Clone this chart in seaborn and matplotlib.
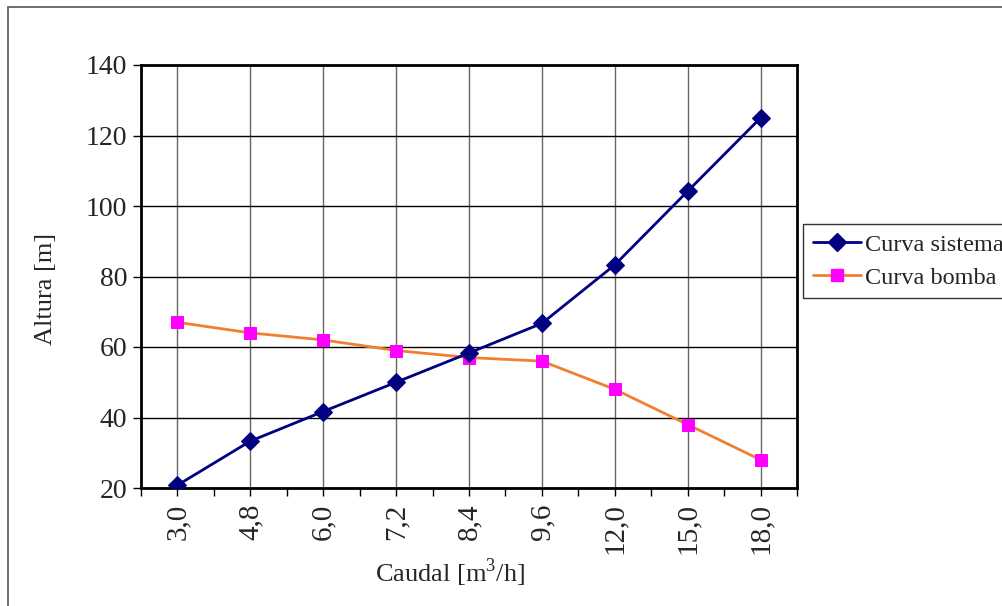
import matplotlib
matplotlib.use("Agg")
import matplotlib.pyplot as plt
import seaborn as sns
import pandas as pd
from matplotlib.lines import Line2D
from matplotlib.patches import Rectangle

caudal = ["3,0", "4,8", "6,0", "7,2", "8,4", "9,6", "12,0", "15,0", "18,0"]
curva_sistema = [20.8, 33.3, 41.7, 50.0, 58.3, 66.7, 83.3, 104.2, 125.0]
curva_bomba = [67, 64, 62, 59, 57, 56, 48, 38, 28]

sns.set_theme(style="white")
plt.rcParams["font.family"] = ["Liberation Serif", "DejaVu Serif"]
plt.rcParams["mathtext.fontset"] = "custom"
plt.rcParams["mathtext.rm"] = "Liberation Serif"

df = pd.DataFrame({"Caudal": caudal, "Curva sistema": curva_sistema, "Curva bomba": curva_bomba})
df["x"] = range(len(caudal))

fig = plt.figure(figsize=(10.03, 6.06), dpi=100)
ax = fig.add_axes([141 / 1003, 1 - 488 / 606, 656 / 1003, 423 / 606])

sns.lineplot(data=df, x="x", y="Curva sistema", ax=ax, color="#000080", lw=2,
             marker="D", markersize=9, markeredgecolor="#000080", markerfacecolor="#000080", zorder=4)
sns.lineplot(data=df, x="x", y="Curva bomba", ax=ax, color="#F08030", lw=2,
             marker="s", markersize=8, markeredgecolor="#FF00FF", markerfacecolor="#FF00FF", zorder=3)

ax.set_xlim(-0.5, len(caudal) - 0.5)
ax.set_ylim(20, 140)
ax.set_yticks(range(20, 141, 20))
ax.set_xticks(range(len(caudal)))
ax.set_xticklabels(caudal, rotation=90, fontsize=21)
ax.set_xticks([i - 0.5 for i in range(len(caudal) + 1)], minor=True)
ax.tick_params(axis="y", labelsize=20, direction="out", length=6, width=1, color="black", left=True, pad=4)
ax.tick_params(axis="x", which="both", direction="out", length=6, width=1, color="black", bottom=True, pad=5)
ax.grid(axis="y", color="black", lw=1)
ax.grid(axis="x", which="major", color="#666666", lw=1)
for s in ax.spines.values():
    s.set_color("black")
    s.set_linewidth(2)
ax.set_axisbelow(True)
ax.set_ylabel("Altura [m]", fontsize=19, va="center")
ax.set_xlabel(r"Caudal [m$^3$/h]", fontsize=19, va="center")
ax.yaxis.set_label_coords((46 - 141) / 656, (488 - 289) / 423)
ax.xaxis.set_label_coords((450 - 141) / 656, -(573 - 488) / 423)

handles = [
    Line2D([0], [0], color="#000080", lw=2, marker="D", markersize=9, markerfacecolor="#000080", markeredgecolor="#000080"),
    Line2D([0], [0], color="#F08030", lw=2, marker="s", markersize=8, markerfacecolor="#FF00FF", markeredgecolor="#FF00FF"),
]
leg = fig.legend(handles, ["Curva sistema", "Curva bomba"], loc="upper left",
                 bbox_to_anchor=(803 / 1003, 1 - 224 / 606), frameon=True, fancybox=False,
                 fontsize=17.5, handlelength=2.0, handletextpad=0.15, borderpad=0.4,
                 labelspacing=0.45, borderaxespad=0)
leg.get_frame().set_edgecolor("black")
leg.get_frame().set_linewidth(1)

fig.patches.append(Rectangle((8.5 / 1003, -0.01), 1.0, 1 - 6.5 / 606 + 0.01, transform=fig.transFigure,
                             fill=False, edgecolor="#555555", lw=1.2, zorder=10))

fig.savefig("out.png", dpi=100)
